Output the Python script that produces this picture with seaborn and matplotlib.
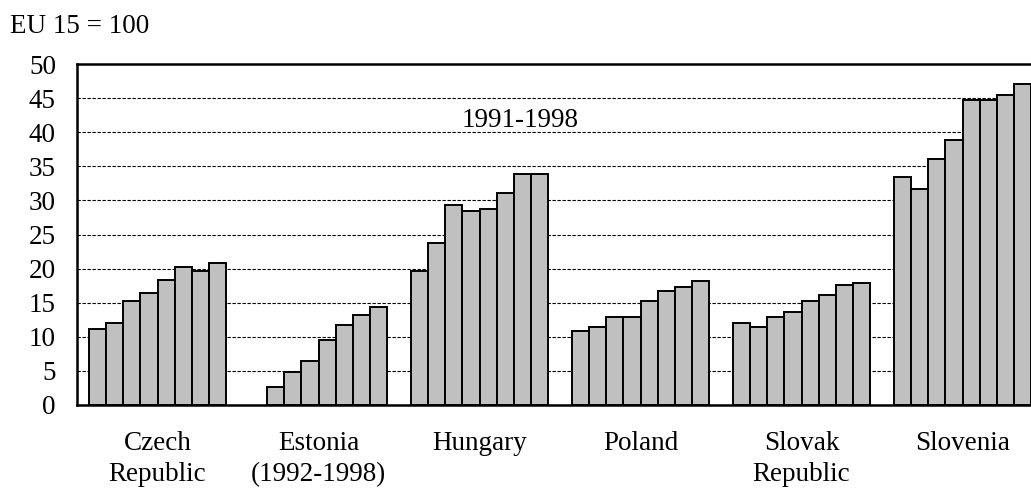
import numpy as np
import pandas as pd
import matplotlib
matplotlib.use('Agg')
import matplotlib.pyplot as plt
import seaborn as sns

# data (EU 15 = 100)
countries = ['Czech\nRepublic', 'Estonia\n(1992-1998)', 'Hungary', 'Poland', 'Slovak\nRepublic', 'Slovenia']
years = [1991, 1992, 1993, 1994, 1995, 1996, 1997, 1998]
czech = [11.1, 12.0, 15.2, 16.4, 18.4, 20.2, 19.6, 20.8]
estonia = [np.nan, 2.6, 4.9, 6.4, 9.6, 11.7, 13.2, 14.3]
hungary = [19.7, 23.7, 29.3, 28.5, 28.8, 31.1, 33.8, 33.8]
poland = [10.8, 11.4, 12.9, 12.9, 15.2, 16.7, 17.3, 18.2]
slovak = [12.0, 11.4, 12.9, 13.7, 15.2, 16.1, 17.6, 17.9]
slovenia = [33.5, 31.7, 36.1, 38.8, 44.7, 44.7, 45.5, 47.0]
y_ticks = list(range(0, 55, 5))

series = [czech, estonia, hungary, poland, slovak, slovenia]
rows = []
for c, vals in zip(countries, series):
    for yr, v in zip(years, vals):
        rows.append({'country': c, 'year': yr, 'value': v})
df = pd.DataFrame(rows)

sns.set_theme(style='white')
plt.rcParams['font.family'] = ['Liberation Serif', 'DejaVu Serif']
plt.rcParams['text.color'] = 'black'
fs = 19.5

fig = plt.figure(figsize=(10.31, 4.91), dpi=100)
ax = fig.add_axes([77 / 1031, 86 / 491, 966 / 1031, 341 / 491])

sns.barplot(data=df, x='country', y='value', hue='year', order=countries,
            palette=['#c0c0c0'] * len(years), saturation=1, width=0.845,
            edgecolor='black', linewidth=1.4, legend=False, ax=ax, zorder=3)

ax.set_xlim(-0.5, 5.5)
ax.set_ylim(0, 50)
ax.set_yticks(y_ticks)
ax.set_yticklabels([str(t) for t in y_ticks], fontsize=fs, color='black')
ax.set_xticks(range(len(countries)))
ax.set_xticklabels(countries, fontsize=fs, color='black', linespacing=1.3)
ax.set_xticks(np.arange(-0.5, 6, 1), minor=True)
ax.set_xlabel('')
ax.set_ylabel('')

ax.tick_params(axis='x', which='major', length=0, pad=19)
ax.tick_params(axis='x', which='minor', length=6, width=1.5, color='black', direction='out')
ax.tick_params(axis='y', length=7.2, width=1.5, color='black', direction='out', pad=8)
ax.tick_params(axis='y', which='minor', length=0)

ax.yaxis.grid(True, linestyle=(0, (3, 1.5)), color='black', linewidth=0.8, zorder=0)
ax.set_axisbelow(True)
for s in ax.spines.values():
    s.set_visible(True)
    s.set_color('black')
    s.set_linewidth(1.8)

ax.text(2.25, 40.8, '1991-1998', ha='center', va='baseline', fontsize=fs)
fig.text(10 / 1031, 1 - 33 / 491, 'EU 15 = 100', ha='left', va='baseline', fontsize=fs)

fig.savefig('out.png', dpi=100)
